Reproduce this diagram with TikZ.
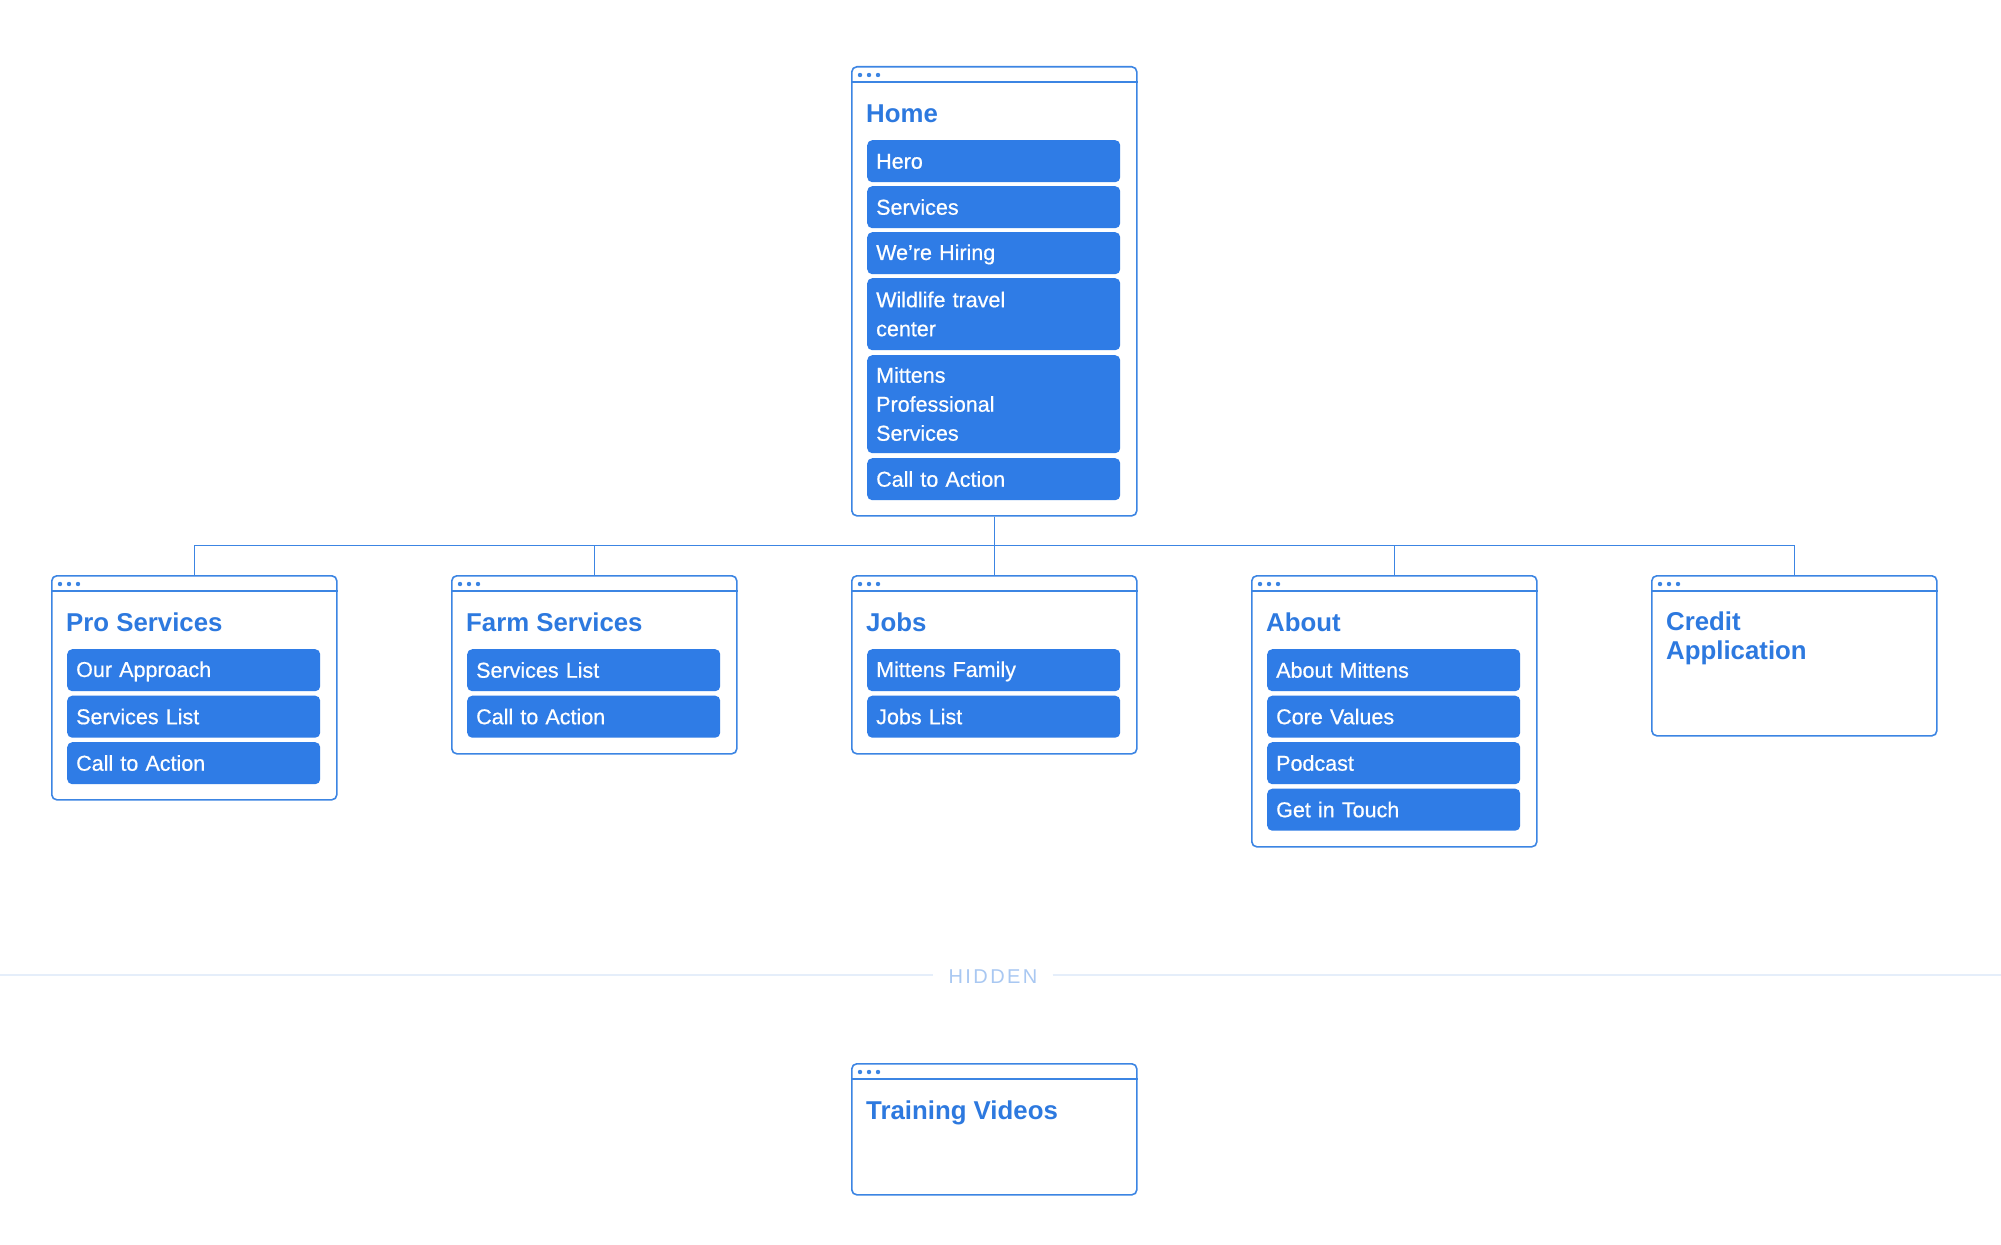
\documentclass[tikz,border=0pt]{standalone}
\usepackage{fontspec}
\setmainfont{Liberation Sans}
\newfontfamily\itmfont[FakeBold=0.6]{Liberation Sans}
\newfontfamily\hidfont[LetterSpace=12]{Liberation Sans}
\definecolor{bluefill}{HTML}{2F7CE6}
\definecolor{blueline}{HTML}{3C85E3}
\definecolor{bluetitle}{HTML}{2D79DF}
\definecolor{hidtext}{HTML}{A9C8F2}
\definecolor{hidline}{HTML}{E5EEFA}
\newcommand\itmstrut{\rule[-3pt]{0pt}{21pt}}
\newcommand\ttlstrut{\rule{0pt}{25pt}}
\tikzset{
 pagefr/.style={draw=blueline, line width=1.6pt, rounded corners=5pt, minimum width=285pt, inner sep=0pt, fill=white, anchor=north west},
 itembox/.style={fill=bluefill, rounded corners=5pt, text=white, text width=235pt, inner xsep=9pt, inner ysep=0pt, align=left, anchor=north west, font=\itmfont\fontsize{21.5}{29}\selectfont, execute at begin node=\itmstrut, execute at end node=\itmstrut},
 ttl/.style={text=bluetitle, font=\bfseries\fontsize{25.8}{28.5}\selectfont, align=left, inner sep=0pt, anchor=north west, execute at begin node=\ttlstrut},
 conn/.style={draw=blueline, line width=1.4pt},
 hdr/.style={draw=blueline, line width=1.6pt},
 dotm/.style={fill=blueline},
}
\newcommand\pgbox[6]{% name, left, top, height, title, extra title shift
 \node[pagefr, minimum height=#4pt] (#1) at (#2,#3) {};
 \draw[hdr] ([yshift=-16pt]#1.north west) -- ([yshift=-16pt]#1.north east);
 \foreach \dd in {9,18,27} \fill[dotm] ([xshift=\dd pt, yshift=-9pt]#1.north west) circle (2.2pt);
 \node[ttl] (#1-title) at ([xshift=15pt, yshift=-31pt-#6pt]#1.north west) {#5};
}
\newcommand\itm[4]{% name, top offset, height, text
 \node[itembox, minimum height=#3pt] (#1) at ([xshift=16pt, yshift=-#2pt]\currbox.north west) {#4};
}
\begin{document}
\begin{tikzpicture}[x=1pt,y=-1pt]
\useasboundingbox (0,0) rectangle (2001,1244);
\fill[white] (0,0) rectangle (2001,1244);

% Home
\pgbox{home}{851}{66}{449}{Home}{0}
\def\currbox{home}
\itm{h1}{74}{42}{Hero}
\itm{h2}{120}{42}{Services}
\itm{h3}{166}{42}{We’re Hiring}
\itm{h4}{212}{72}{Wildlife travel\\center}
\itm{h5}{289}{98}{Mittens\\Professional\\Services}
\itm{h6}{392}{42}{Call to Action}

% Pro Services
\pgbox{pro}{51}{575}{224}{Pro Services}{0}
\def\currbox{pro}
\itm{p1}{74}{42}{Our Approach}
\itm{p2}{120.5}{42}{Services List}
\itm{p3}{167}{42}{Call to Action}

% Farm Services
\pgbox{farm}{451}{575}{178}{Farm Services}{0}
\def\currbox{farm}
\itm{f1}{74}{42}{Services List}
\itm{f2}{120.5}{42}{Call to Action}

% Jobs
\pgbox{jobs}{851}{575}{178}{Jobs}{0}
\def\currbox{jobs}
\itm{j1}{74}{42}{Mittens Family}
\itm{j2}{120.5}{42}{Jobs List}

% About
\pgbox{about}{1251}{575}{271}{About}{0}
\def\currbox{about}
\itm{a1}{74}{42}{About Mittens}
\itm{a2}{120.5}{42}{Core Values}
\itm{a3}{167}{42}{Podcast}
\itm{a4}{213.5}{42}{Get in Touch}

% Credit Application
\pgbox{credit}{1651}{575}{160}{Credit\\Application}{6}

% connectors
\foreach \c in {pro,farm,jobs,about,credit}
  \draw[conn] (home.south) -- ++(0,29) -| (\c.north);

% Hidden separator
\node[text=hidtext, font=\hidfont\fontsize{20}{24}\selectfont, inner sep=0pt] (hidden) at (993,977) {HIDDEN};
\coordinate (hl) at (0,975);
\coordinate (hr) at (2001,975);
\draw[hidline, line width=2pt] (hl) -- ([xshift=-15pt]hidden.west |- hl);
\draw[hidline, line width=2pt] ([xshift=15pt]hidden.east |- hr) -- (hr);

% Training Videos
\pgbox{train}{851}{1063}{131}{Training Videos}{0}
\end{tikzpicture}
\end{document}
